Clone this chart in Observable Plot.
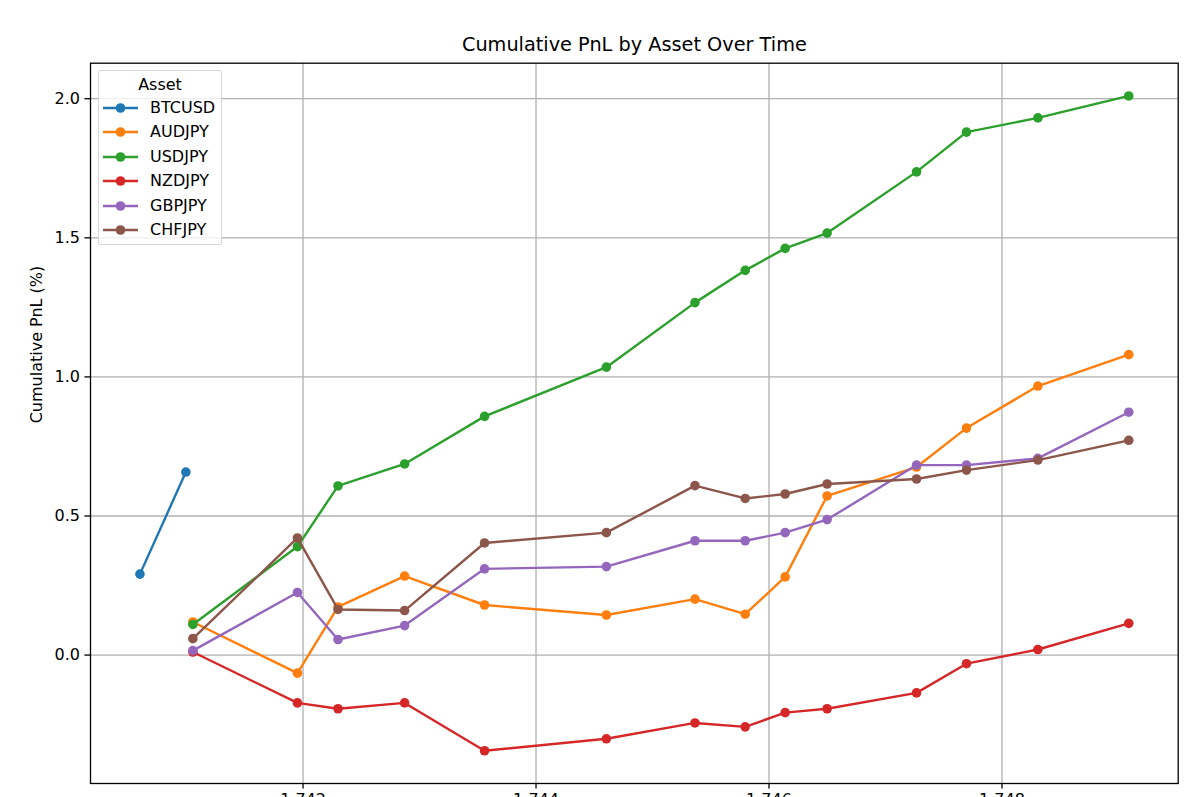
<!DOCTYPE html>
<html>
<head>
<meta charset="utf-8">
<script src="https://cdn.jsdelivr.net/npm/d3@7"></script>
<script src="https://cdn.jsdelivr.net/npm/@observablehq/plot@0.6"></script>
<style>
  html, body { margin: 0; padding: 0; background: #fff; overflow: hidden; }
  #wrap { position: relative; width: 1200px; }
  #legend {
    position: absolute; left: 98px; top: 70px; width: 124px; height: 175px;
    background: rgba(255,255,255,0.8); border: 1px solid rgba(204,204,204,0.8);
    border-radius: 3px; font-family: "DejaVu Sans", sans-serif; font-size: 16px; color: #000;
    box-sizing: border-box;
  }
  #legend .ttl { position: absolute; left: 0; width: 100%; top: 4px; text-align: center; line-height: 20px; }
  #legend .row { position: absolute; left: 0; height: 20px; width: 100%; }
  #legend .row svg { position: absolute; left: 4px; top: 4px; }
  #legend .row span { position: absolute; left: 51px; top: 0; line-height: 20px; white-space: nowrap; }
</style>
</head>
<body>
<div id="wrap"></div>
<script>
// ---- data ----
const assets = ["BTCUSD", "AUDJPY", "USDJPY", "NZDJPY", "GBPJPY", "CHFJPY"];
const colors = ["#1f77b4", "#ff7f0e", "#2ca02c", "#d62728", "#9467bd", "#8c564b"];

// epoch seconds
const btcTimes = [1740599800, 1740994200];
const btcusd = [0.291, 0.658];

const times = [1741054200, 1741952000, 1742300100, 1742872000, 1743558000, 1744604100, 1745364600,
               1745795900, 1746138900, 1746499000, 1747266500, 1747695200, 1748308300, 1749088500];
const audjpy = [0.119, -0.065, 0.173, 0.284, 0.180, 0.144, 0.201, 0.147, 0.281, 0.572, 0.676, 0.816, 0.967, 1.080];
const usdjpy = [0.110, 0.390, 0.608, 0.687, 0.858, 1.035, 1.267, 1.383, 1.462, 1.517, 1.737, 1.880, 1.931, 2.010];
const nzdjpy = [0.011, -0.172, -0.193, -0.172, -0.344, -0.301, -0.244, -0.258, -0.207, -0.193, -0.136, -0.031, 0.020, 0.114];
const gbpjpy = [0.016, 0.225, 0.056, 0.106, 0.310, 0.318, 0.411, 0.411, 0.440, 0.487, 0.683, 0.683, 0.707, 0.873];
const chfjpy = [0.059, 0.421, 0.164, 0.160, 0.403, 0.440, 0.609, 0.563, 0.579, 0.615, 0.633, 0.665, 0.701, 0.772];

const xTicks = [1.742e9, 1.744e9, 1.746e9, 1.748e9];
const yTicks = [0, 0.5, 1.0, 1.5, 2.0];
const title = "Cumulative PnL by Asset Over Time";
const yLabel = "Cumulative PnL (%)";
const legendTitle = "Asset";

// ---- build rows ----
const seriesValues = {AUDJPY: audjpy, USDJPY: usdjpy, NZDJPY: nzdjpy, GBPJPY: gbpjpy, CHFJPY: chfjpy};
const rows = [];
btcTimes.forEach((t, i) => rows.push({asset: "BTCUSD", time: t, pnl: btcusd[i]}));
for (const a of assets.slice(1)) times.forEach((t, i) => rows.push({asset: a, time: t, pnl: seriesValues[a][i]}));

function padded(ext) { const d = ext[1] - ext[0]; return [ext[0] - 0.05 * d, ext[1] + 0.05 * d]; }
const xDomain = padded(d3.extent(rows, d => d.time));
const yDomain = padded(d3.extent(rows, d => d.pnl));

const marks = [
  Plot.gridX(xTicks, {stroke: "#b0b0b0", strokeOpacity: 1, strokeWidth: 1.3}),
  Plot.gridY(yTicks, {stroke: "#b0b0b0", strokeOpacity: 1, strokeWidth: 1.3}),
];
for (const a of assets) {
  const d = rows.filter(r => r.asset === a);
  marks.push(Plot.line(d, {x: "time", y: "pnl", stroke: "asset", strokeWidth: 2.4}));
  marks.push(Plot.dot(d, {x: "time", y: "pnl", fill: "asset", r: 4.8, stroke: null}));
}
marks.push(
  Plot.axisX(xTicks, {tickSize: 5.6, tickPadding: 5, tickFormat: d => (d / 1e9).toFixed(3), label: null, strokeWidth: 1.3}),
  Plot.axisY(yTicks, {tickSize: 5.6, tickPadding: 5, tickFormat: d3.format(".1f"), label: null, strokeWidth: 1.3}),
  Plot.frame({stroke: "#000", strokeWidth: 1.3}),
  Plot.text([title], {frameAnchor: "top", dy: -12, lineAnchor: "bottom", fontSize: 19.3, fill: "#000"}),
  Plot.text([yLabel], {frameAnchor: "left", rotate: -90, dx: -49, lineAnchor: "bottom", fontSize: 16, fill: "#000"})
);

const chart = Plot.plot({
  width: 1200,
  height: 833,
  marginLeft: 90,
  marginRight: 22.3,
  marginTop: 62.7,
  marginBottom: 50,
  style: {fontFamily: "DejaVu Sans, sans-serif", fontSize: "16px", color: "#000", background: "#fff"},
  x: {type: "linear", domain: xDomain},
  y: {type: "linear", domain: yDomain},
  color: {domain: assets, range: colors},
  marks
});

const wrap = document.getElementById("wrap");
wrap.appendChild(chart);

// ---- legend ----
const legend = d3.select(wrap).append("div").attr("id", "legend");
legend.append("div").attr("class", "ttl").text(legendTitle);
assets.forEach((a, i) => {
  const row = legend.append("div").attr("class", "row").style("top", (27 + i * 24.4) + "px");
  const s = row.append("svg").attr("width", 40).attr("height", 12);
  s.append("line").attr("x1", 0).attr("x2", 35).attr("y1", 6).attr("y2", 6)
    .attr("stroke", colors[i]).attr("stroke-width", 2.4);
  s.append("circle").attr("cx", 17.5).attr("cy", 6).attr("r", 4.8).attr("fill", colors[i]);
  row.append("span").text(a);
});
</script>
</body>
</html>
